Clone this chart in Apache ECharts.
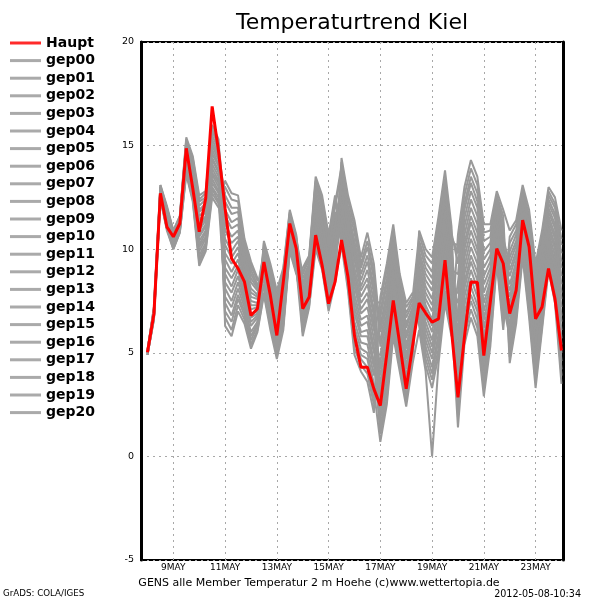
<!DOCTYPE html>
<html><head><meta charset="utf-8">
<script src="https://cdn.jsdelivr.net/npm/echarts@6/dist/echarts.min.js"></script>
<style>html,body{margin:0;padding:0;background:#fff}#c{width:600px;height:600px}</style>
</head><body><div id="c"></div>
<script>
// time: first value 8 May 00 UTC, 6-hourly steps (x in day-of-May)
const startDay = 8;
const stepDays = 0.25;

const haupt = [5.03,6.89,12.7,11.08,10.6,11.24,14.87,12.94,10.84,12.45,16.89,14.7,11.97,9.55,9.07,8.42,6.8,7.13,9.38,7.77,5.84,8.42,11.24,10.03,7.13,7.69,10.68,9.22,7.37,8.42,10.44,8.66,5.84,
  4.3,4.3,3.26,2.45,4.95,7.53,5.43,3.26,5.35,7.4,6.92,6.48,6.64,9.47,6.08,2.85,5.76,8.42,8.4,4.87,7.45,10.03,9.31,6.89,8.02,11.4,10.11,6.64,7.21,9.07,7.61,5.11];

const gep00 = [5.0,6.9,12.8,11.5,10.5,11.2,14.5,13.4,10.9,11.4,14.3,13.7, 8.4,7.9,8.7,7.6,6.5,6.8,10.3,9.1,7.8,9.0,11.8,10.6, 7.8,8.7,12.1,11.2,9.2,10.9,12.7,10.8,8.8,7.4,7.9,6.4, 3.5,5.2,8.0,6.0,4.4,5.9,8.0,6.5,5.6,7.3,9.9,7.9, 7.9,10.7,12.0,11.2,8.7,9.4,11.8,10.2,9.0,9.9,12.1,10.3,7.5,9.5,11.8,11.0,8.7];
const gep01 = [5.0,6.8,12.6,11.3,10.3,11.0,14.1,13.0,10.2,10.8,13.6,13.0, 10.2,9.6,10.1,8.7,7.5,7.4,9.2,7.9,6.5,7.8,11.0,9.8, 6.5,7.7,10.7,9.7,7.7,9.2,14.2,12.4,11.1,9.3,10.4,8.9, 5.3,6.9,9.3,7.2,5.7,6.7,9.2,7.9,7.3,9.1,11.5,9.2, 5.6,8.8,10.1,9.3,6.6,8.0,10.9,8.7,7.4,8.7,11.2,9.0,6.0,8.3,10.8,9.7,6.8];
const gep02 = [5.0,7.0,12.9,11.7,10.6,11.4,14.8,13.8,11.6,11.9,15.0,14.3, 12.3,11.7,11.8,9.9,8.8,8.2,8.5,6.9,5.5,6.9,10.4,9.3, 7.3,8.3,11.6,10.6,8.7,10.3,12.1,10.1,7.8,6.6,6.8,5.3, 2.1,3.9,6.9,5.0,3.4,5.2,9.7,8.5,8.0,9.8,12.2,9.8, 4.2,7.7,9.0,8.1,5.4,7.1,10.4,7.8,6.4,7.9,10.7,8.3,5.1,7.5,10.2,8.9,5.7];
const gep03 = [4.9,6.7,12.5,11.0,10.1,10.9,13.8,12.5,9.5,10.2,12.9,12.3, 7.7,7.2,8.1,7.2,6.0,6.5,8.3,6.7,5.4,6.7,10.3,9.2, 8.3,9.1,12.6,11.7,9.8,11.6,10.4,8.2,5.2,4.4,4.0,2.5, 4.6,6.2,8.8,6.7,5.2,6.4,8.7,7.3,6.6,8.4,10.9,8.7, 2.8,6.5,7.8,7.0,4.1,6.2,9.8,7.0,10.6,11.2,12.9,11.6,9.0,10.7,12.8,12.2,10.5];
const gep04 = [5.1,7.1,13.0,12.0,10.8,11.5,15.2,14.3,12.3,12.5,15.7,15.0, 9.1,8.6,9.2,8.0,6.9,7.0,8.8,7.4,6.0,7.3,10.7,9.6, 6.1,7.5,10.4,9.4,7.4,8.8,13.6,11.7,10.1,8.5,9.4,7.9, 6.3,7.9,10.1,7.9,6.4,7.2,9.9,8.8,8.3,10.2,12.5,10.0, 6.5,9.6,10.9,10.0,7.4,8.5,11.2,9.3,8.0,9.2,11.5,9.6,6.6,8.7,11.2,10.2,7.6];
const gep05 = [5.0,6.9,12.7,11.4,10.4,11.2,14.4,13.3,10.7,11.2,14.1,13.5, 10.9,10.3,10.6,9.1,7.9,7.7,9.5,8.2,6.8,8.1,11.2,10.0, 7.0,8.1,11.2,10.3,8.3,9.9,11.7,9.6,7.2,6.0,6.1,4.6, 1.1,2.8,6.1,4.3,2.7,4.7,10.4,9.4,8.9,10.9,13.1,10.6, 9.8,12.2,13.5,12.7,10.4,10.6,12.5,11.3,5.1,6.9,10.0,7.2,3.9,6.6,9.4,7.9,4.2];
const gep06 = [5.0,7.0,12.8,11.6,10.5,11.3,14.7,13.6,11.2,11.6,14.6,14.0, 7.0,6.5,7.6,6.8,5.6,6.3,10.1,9.0,7.6,8.8,11.7,10.5, 8.8,9.5,13.2,12.2,10.3,12.2,14.0,12.1,10.8,9.1,10.1,8.6, 2.8,4.5,7.4,5.5,3.9,5.5,7.5,5.9,5.0,6.6,9.3,7.4, 5.1,8.4,9.7,8.9,6.2,7.7,10.7,8.4,7.1,8.4,11.0,8.8,5.7,8.0,10.6,9.4,6.5];
const gep07 = [4.9,6.7,12.5,11.1,10.2,11.0,14.0,12.7,9.9,10.5,13.2,12.7, 11.6,11.0,11.2,9.5,8.4,8.0,9.8,8.5,7.1,8.4,11.4,10.2, 7.6,8.6,11.9,11.0,9.0,10.7,12.5,10.5,8.5,7.1,7.6,6.1, 5.6,7.3,9.6,7.4,5.9,6.9,9.5,8.2,7.6,9.5,11.8,9.5, 1.9,5.8,7.1,6.2,3.3,5.6,9.5,6.4,9.6,10.4,12.4,10.9,8.1,9.9,12.2,11.5,9.4];
const gep08 = [5.1,7.1,13.0,11.9,10.7,11.4,15.0,14.1,11.9,12.2,15.3,14.6, 9.5,8.9,9.5,8.2,7.1,7.2,9.0,7.5,6.2,7.5,10.8,9.7, 6.6,7.8,10.9,9.9,7.9,9.5,11.3,9.2,6.5,5.5,5.4,3.9, 7.0,8.6,10.7,8.3,6.9,7.6,6.3,4.4,3.3,4.9,7.7,6.1, 7.0,10.0,11.3,10.4,7.9,8.8,11.4,9.6,8.3,9.4,11.7,9.8,6.9,9.0,11.4,10.5,7.9];
const gep09 = [5.0,6.8,12.6,11.3,10.3,11.1,14.2,13.1,10.4,10.9,13.7,13.2, 13.0,12.4,12.3,10.3,9.2,8.5,8.6,7.1,5.7,7.0,10.5,9.4, 8.1,9.0,12.5,11.5,9.6,11.3,13.1,11.2,9.5,8.0,8.6,7.1, 1.8,3.5,6.6,4.8,3.2,5.0,10.9,10.0,9.6,11.6,13.8,11.1, 3.7,7.3,8.6,7.7,4.9,6.8,10.2,7.6,6.1,7.7,10.5,8.0,4.8,7.3,10.0,8.7,5.4];
const gep10 = [5.0,7.0,12.9,11.7,10.6,11.3,14.7,13.7,11.4,11.8,14.8,14.1, 6.7,6.1,7.3,6.6,5.4,6.1,7.9,6.3,4.9,6.3,10.0,8.9, 7.1,8.2,11.4,10.4,8.5,10.1,11.9,9.8,7.5,6.3,6.5,5.0, 4.9,6.6,9.0,6.9,5.4,6.5,9.0,7.6,7.0,8.8,11.2,9.0, 8.8,11.5,12.8,12.0,9.5,10.0,12.1,10.7,4.8,6.7,9.8,7.0,3.6,6.3,9.2,7.7,3.9];
const gep11 = [4.9,6.7,12.5,11.1,10.1,10.9,13.9,12.6,9.7,10.3,13.0,12.5, 10.5,9.9,10.4,8.9,7.7,7.6,9.4,8.0,6.7,7.9,11.1,9.9, 8.4,9.2,12.8,11.9,10.0,11.8,10.6,8.5,5.6,4.7,4.3,2.8, 3.2,4.9,7.7,5.7,4.2,5.7,7.8,6.2,5.3,7.0,9.6,7.7, 6.1,9.2,10.5,9.7,7.0,8.3,11.1,9.0,7.7,8.9,11.4,9.3,6.3,8.5,11.0,10.0,7.2];
const gep12 = [5.0,6.9,12.8,11.6,10.5,11.2,14.6,13.5,11.1,11.5,14.4,13.8, 8.1,7.5,8.4,7.4,6.3,6.7,10.0,8.8,7.5,8.7,11.6,10.4, 6.3,7.6,10.5,9.5,7.6,9.0,14.4,12.6,11.4,9.6,10.8,9.3, 6.0,7.6,9.9,7.6,6.2,7.1,7.1,5.3,4.3,5.9,8.7,6.9, 4.7,8.1,9.4,8.5,5.8,7.4,10.5,8.1,6.7,8.2,10.8,8.5,5.4,7.8,10.4,9.2,6.1];
const gep13 = [5.1,7.1,13.0,11.9,10.8,11.5,15.1,14.2,12.1,12.4,15.5,14.8, 11.2,10.6,10.9,9.3,8.1,7.8,9.6,8.3,7.0,8.2,11.3,10.1, 7.5,8.5,11.8,10.8,8.9,10.5,12.3,10.3,8.2,6.9,7.2,5.7, 3.9,5.6,8.2,6.2,4.7,6.0,8.3,6.8,6.0,7.7,10.3,8.2, 7.4,10.3,11.6,10.8,8.3,9.1,11.6,9.9,8.7,9.7,11.9,10.1,7.2,9.2,11.6,10.7,8.3];
const gep14 = [5.0,6.8,12.6,11.2,10.2,11.0,14.0,12.9,10.1,10.6,13.4,12.8, 8.8,8.2,9.0,7.8,6.7,6.9,8.7,7.2,5.8,7.2,10.6,9.5, 8.9,9.6,13.3,12.4,10.5,12.4,11.0,8.9,6.2,5.2,5.0,3.5, 2.5,4.2,7.2,5.3,3.7,5.4,7.3,5.6,4.7,6.3,9.0,7.1, 2.3,6.2,7.5,6.6,3.7,5.9,9.7,6.7,10.3,10.9,12.8,11.4,8.7,10.4,12.6,12.0,10.2];
const gep15 = [5.1,7.1,12.9,11.8,10.7,11.4,14.9,14.0,11.8,12.1,15.1,14.5, 12.6,12.0,12.0,10.1,9.0,8.3,8.1,6.4,5.0,6.4,10.1,9.0, 6.8,8.0,11.1,10.1,8.1,9.7,11.5,9.4,6.9,5.8,5.8,4.3, 6.7,8.3,10.4,8.1,6.7,7.4,6.6,4.7,3.7,5.2,8.0,6.3, 8.4,11.1,12.4,11.6,9.1,9.7,11.9,10.5,9.3,10.2,12.2,10.6,7.8,9.7,12.0,11.2,9.1];
const gep16 = [5.0,6.8,12.7,11.4,10.4,11.1,14.3,13.2,10.6,11.1,13.9,13.3, 7.4,6.8,7.8,7.0,5.8,6.4,10.4,9.3,8.0,9.1,11.9,10.7, 7.9,8.8,12.3,11.3,9.4,11.1,12.9,11.0,9.1,7.7,8.3,6.8, 4.2,5.9,8.5,6.5,4.9,6.2,8.5,7.1,6.3,8.1,10.6,8.5, 3.3,6.9,8.2,7.3,4.5,6.5,10.0,7.3,5.8,7.4,10.3,7.7,4.5,7.1,9.8,8.4,5.0];
const gep17 = [4.9,6.6,12.4,11.0,10.0,10.8,13.7,12.4,9.4,10.0,12.7,12.2, 9.8,9.3,9.8,8.5,7.3,7.3,9.1,7.7,6.3,7.6,10.9,9.8, 6.0,7.3,10.2,9.2,7.2,8.6,13.4,11.5,9.8,8.2,9.0,7.5, 7.4,9.0,10.9,8.6,7.2,7.7,10.7,9.7,9.3,11.2,13.4,10.8, 9.3,11.9,13.2,12.3,9.9,10.3,12.3,11.0,4.5,6.4,9.6,6.7,3.3,6.1,9.0,7.4,3.5];
const gep18 = [5.1,7.2,13.1,12.0,10.9,11.6,15.3,14.4,12.4,12.7,15.8,15.1, 11.9,11.3,11.5,9.7,8.6,8.1,9.9,8.7,7.3,8.5,11.5,10.3, 8.6,9.3,13.0,12.1,10.1,12.0,13.8,11.9,10.4,8.8,9.7,8.2, 1.4,3.2,6.3,4.6,2.9,4.8,10.2,9.1,8.6,10.5,12.8,10.3, 10.2,12.6,13.9,13.1,10.8,10.9,12.6,11.6,5.5,7.2,10.1,7.5,4.2,6.8,9.6,8.2,4.6];
const gep19 = [4.9,6.6,12.4,10.9,10.0,10.8,13.6,12.3,9.2,9.9,12.5,12.0, 13.3,12.7,12.6,10.5,9.4,8.6,8.2,6.6,5.2,6.6,10.2,9.1, 5.8,7.2,10.0,9.0,7.0,8.4,10.2,8.0,4.9,4.1,3.6,2.1, 7.7,9.3,11.2,8.8,7.4,7.9,6.8,5.0,4.0,5.6,8.4,6.6, 1.4,5.4,6.7,5.8,2.9,5.3,9.3,6.1,9.9,10.7,12.6,11.1,8.4,10.2,12.4,11.7,9.8];
const gep20 = [5.1,7.2,13.1,12.1,10.9,11.6,15.4,14.5,12.6,12.8,16.0,15.3, 6.3,5.8,7.0,6.4,5.2,6.0,7.8,6.1,4.7,6.1,9.9,8.8, 9.1,9.7,13.5,12.6,10.7,12.6,10.8,8.7,5.9,4.9,4.7,3.2, 0.7,2.5,5.8,4.1,2.4,4.5,6.1,4.1,0.0,4.5,7.4,5.8, 10.7,13.0,14.3,13.5,11.2,11.2,12.8,11.9,10.9,11.4,13.1,11.9,9.3,10.9,13.0,12.5,10.9];

const memberNames = ['gep00','gep01','gep02','gep03','gep04','gep05','gep06','gep07','gep08','gep09','gep10','gep11','gep12','gep13','gep14','gep15','gep16','gep17','gep18','gep19','gep20'];
const memberValues = [gep00,gep01,gep02,gep03,gep04,gep05,gep06,gep07,gep08,gep09,gep10,gep11,gep12,gep13,gep14,gep15,gep16,gep17,gep18,gep19,gep20];

const xTickDays = [9,11,13,15,17,19,21,23];
const xTickLabels = ['9MAY','11MAY','13MAY','15MAY','17MAY','19MAY','21MAY','23MAY'];

const titleText = 'Temperaturtrend Kiel';
const captionText = 'GENS alle Member Temperatur 2 m Hoehe (c)www.wettertopia.de';
const leftFoot = 'GrADS: COLA/IGES';
const rightFoot = '2012-05-08-10:34';

function pairs(arr){ return arr.map((v,i)=>[startDay + i*stepDays, v]); }

const chart = echarts.init(document.getElementById('c'), null, {renderer:'canvas'});
const series = [];
memberValues.forEach((vals, k) => {
  series.push({
    name: memberNames[k], type:'line', data: pairs(vals), showSymbol:false, symbol:'none',
    lineStyle:{color:'#999999', width:2}, itemStyle:{color:'#999999'}, z:2, silent:true, animation:false
  });
});
series.push({
  name:'Haupt', type:'line', data: pairs(haupt), showSymbol:false, symbol:'none',
  lineStyle:{color:'#ff0000', width:3}, itemStyle:{color:'#ff0000'}, z:3, silent:true, animation:false
});

const gridLine = {show:true, lineStyle:{color:'#a8a8a8', width:1, type:[2,4]}};

chart.setOption({
  animation:false,
  backgroundColor:'#ffffff',
  grid:{left:141, right:37, top:42, bottom:40, show:true, borderColor:'#000', borderWidth:2, backgroundColor:'transparent'},
  legend:{
    orient:'vertical', left:10, top:36, padding:0, itemGap:3.6, itemWidth:31, itemHeight:3,
    icon:'rect', selectedMode:false,
    textStyle:{fontFamily:'DejaVu Sans', fontWeight:'bold', fontSize:14, lineHeight:14, color:'#000'},
    data:[{name:'Haupt', itemStyle:{color:'#ff2a2a'}}].concat(memberNames.map(n=>({name:n, itemStyle:{color:'#aaaaaa'}})))
  },
  xAxis:{
    type:'value', min:7.75, max:24.06,
    axisLine:{show:false},
    axisTick:{show:false, customValues:xTickDays},
    axisLabel:{customValues:xTickDays, formatter:(v)=>{const k=xTickDays.indexOf(v);return k>=0?xTickLabels[k]:'';},
      fontFamily:'DejaVu Sans', fontSize:9, color:'#000', margin:3},
    splitLine:gridLine
  },
  yAxis:[{
    type:'value', min:-5, max:20, interval:5,
    axisLine:{show:true, lineStyle:{color:'#000', width:3}},
    axisTick:{show:false},
    axisLabel:{fontFamily:'DejaVu Sans', fontSize:9.5, color:'#000', margin:7},
    splitLine:gridLine
  },{
    type:'value', min:-5, max:20, interval:5, position:'right',
    axisLine:{show:true, lineStyle:{color:'#000', width:3}},
    axisTick:{show:false}, axisLabel:{show:false}, splitLine:{show:false}
  }],
  graphic:[
    {type:'text', x:352, y:23, style:{text:titleText, font:'22px "DejaVu Sans"', fill:'#000', textAlign:'center', textVerticalAlign:'middle', align:'center', verticalAlign:'middle'}},
    {type:'text', x:319, y:583, style:{text:captionText, font:'11px "DejaVu Sans"', fill:'#000', textAlign:'center', textVerticalAlign:'middle', align:'center', verticalAlign:'middle'}},
    {type:'text', x:3, y:594, style:{text:leftFoot, font:'8.7px "DejaVu Sans"', fill:'#000', textAlign:'left', textVerticalAlign:'middle', align:'left', verticalAlign:'middle'}},
    {type:'text', x:581, y:594, style:{text:rightFoot, font:'9.6px "DejaVu Sans"', fill:'#000', textAlign:'right', textVerticalAlign:'middle', align:'right', verticalAlign:'middle'}}
  ],
  series: series
});
</script>
</body></html>
